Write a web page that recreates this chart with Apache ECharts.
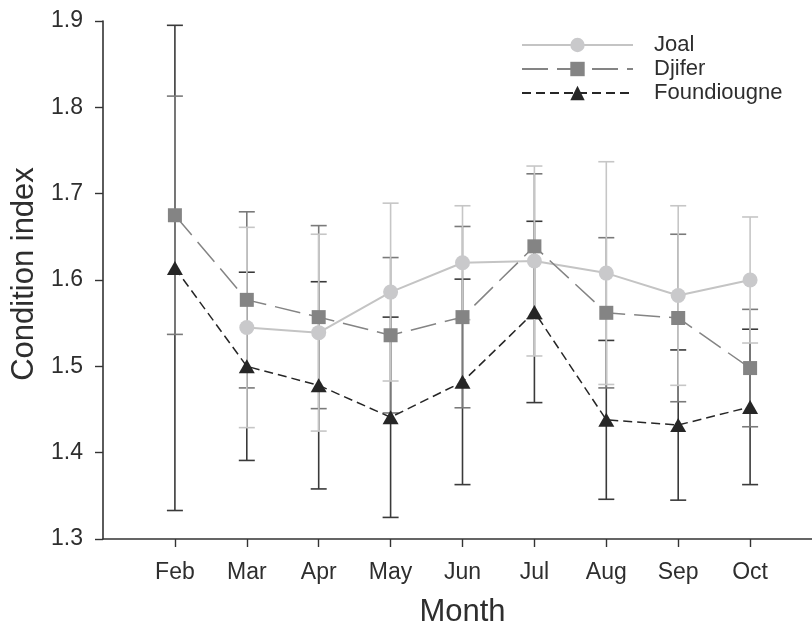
<!DOCTYPE html>
<html>
<head>
<meta charset="utf-8">
<script src="https://cdn.jsdelivr.net/npm/echarts@6/dist/echarts.min.js"></script>
<style>
  html, body { margin: 0; padding: 0; background: #fff; }
  #chart { width: 812px; height: 624px; }
</style>
</head>
<body>
<div id="chart"></div>
<script>
// Monthly condition index (mean and standard deviation) at three landing sites
const months = ['Feb', 'Mar', 'Apr', 'May', 'Jun', 'Jul', 'Aug', 'Sep', 'Oct'];

const joalMean = [null, 1.545, 1.539, 1.586, 1.620, 1.622, 1.608, 1.582, 1.600];
const joalSd   = [null, 0.116, 0.114, 0.103, 0.066, 0.110, 0.129, 0.104, 0.073];

const djiferMean = [1.675, 1.577, 1.557, 1.536, 1.557, 1.639, 1.562, 1.556, 1.498];
const djiferSd   = [0.138, 0.102, 0.106, 0.090, 0.105, 0.084, 0.087, 0.097, 0.068];

const foundMean = [1.614, 1.500, 1.478, 1.441, 1.482, 1.563, 1.438, 1.432, 1.453];
const foundSd   = [0.281, 0.109, 0.120, 0.116, 0.119, 0.105, 0.092, 0.087, 0.090];

const yMin = 1.3, yMax = 1.9, yStep = 0.1;

// The axis keeps one empty slot on each side of the sampled months
const axisCats = ['Jan', ...months, 'Nov'];
const isMonthSlot = (i) => i > 0 && i < axisCats.length - 1;

const FONT = '"Liberation Sans", Arial, Helvetica, sans-serif';
const INK = '#2e2e2e';

function linePoints(mean) {
  return months.map((m, i) => [m, mean[i]]);
}

function errorBarSeries(mean, sd, color) {
  const data = [];
  months.forEach((m, i) => {
    if (mean[i] == null) return;
    data.push([i + 1, mean[i] - sd[i], mean[i] + sd[i]]);
  });
  return {
    type: 'custom',
    silent: true,
    encode: { x: 0, y: [1, 2] },
    data: data,
    renderItem: function (params, api) {
      const lo = api.coord([api.value(0), api.value(1)]);
      const hi = api.coord([api.value(0), api.value(2)]);
      const half = 8;
      const st = { stroke: color, lineWidth: 1.6 };
      return {
        type: 'group',
        children: [
          { type: 'line', shape: { x1: lo[0], y1: lo[1], x2: hi[0], y2: hi[1] }, style: st },
          { type: 'line', shape: { x1: lo[0] - half, y1: lo[1], x2: lo[0] + half, y2: lo[1] }, style: st },
          { type: 'line', shape: { x1: hi[0] - half, y1: hi[1], x2: hi[0] + half, y2: hi[1] }, style: st }
        ]
      };
    }
  };
}

const chart = echarts.init(document.getElementById('chart'), null, { renderer: 'canvas' });

chart.setOption({
  animation: false,
  backgroundColor: '#ffffff',
  textStyle: { fontFamily: FONT },
  grid: { left: 103, right: -10, top: 21, bottom: 85, containLabel: false, outerBoundsMode: 'none' },
  legend: {
    orient: 'vertical',
    left: 516,
    top: 29,
    itemWidth: 111,
    itemHeight: 18,
    itemGap: 2,
    data: ['Joal', 'Djifer', 'Foundiougne'],
    textStyle: { fontFamily: FONT, fontSize: 22, color: INK, lineHeight: 22, padding: [0, 0, 0, 16] }
  },
  xAxis: {
    type: 'category',
    data: axisCats,
    boundaryGap: false,
    name: 'Month',
    nameLocation: 'middle',
    nameGap: 58,
    nameTextStyle: { fontFamily: FONT, fontSize: 31, color: INK },
    axisLine: { show: true, onZero: false, lineStyle: { color: '#333', width: 1.6 } },
    axisTick: { show: true, length: 8, interval: (i) => isMonthSlot(i), lineStyle: { color: '#333', width: 1.4 } },
    axisLabel: { interval: (i) => isMonthSlot(i), margin: 22, fontFamily: FONT, fontSize: 23, color: INK },
    splitLine: { show: false }
  },
  yAxis: {
    type: 'value',
    min: yMin,
    max: yMax,
    interval: yStep,
    name: 'Condition index',
    nameLocation: 'middle',
    nameGap: 62,
    nameTextStyle: { fontFamily: FONT, fontSize: 31, color: INK, padding: [0, 0, 0, 12] },
    axisLine: { show: true, lineStyle: { color: '#333', width: 1.6 } },
    axisTick: { show: true, length: 8, lineStyle: { color: '#333', width: 1.4 } },
    axisLabel: { margin: 20, fontFamily: FONT, fontSize: 23, color: INK, formatter: (v) => v.toFixed(1) },
    splitLine: { show: false }
  },
  series: [
    errorBarSeries(foundMean, foundSd, '#3a3a3a'),
    errorBarSeries(djiferMean, djiferSd, '#7a7a7a'),
    errorBarSeries(joalMean, joalSd, '#c6c6c6'),
    {
      name: 'Joal',
      type: 'line',
      data: linePoints(joalMean),
      symbol: 'circle',
      symbolSize: 15,
      connectNulls: false,
      itemStyle: { color: '#c9c9cb' },
      lineStyle: { color: '#c4c4c4', width: 2 },
      emphasis: { disabled: true }
    },
    {
      name: 'Djifer',
      type: 'line',
      data: linePoints(djiferMean),
      symbol: 'rect',
      symbolSize: 14,
      itemStyle: { color: '#848484' },
      lineStyle: { color: '#848484', width: 1.5, type: [26, 9] },
      emphasis: { disabled: true }
    },
    {
      name: 'Foundiougne',
      type: 'line',
      data: linePoints(foundMean),
      symbol: 'triangle',
      symbolSize: [16, 14],
      itemStyle: { color: '#262626' },
      lineStyle: { color: '#262626', width: 1.5, type: [9, 5] },
      emphasis: { disabled: true }
    }
  ]
});
</script>
</body>
</html>
